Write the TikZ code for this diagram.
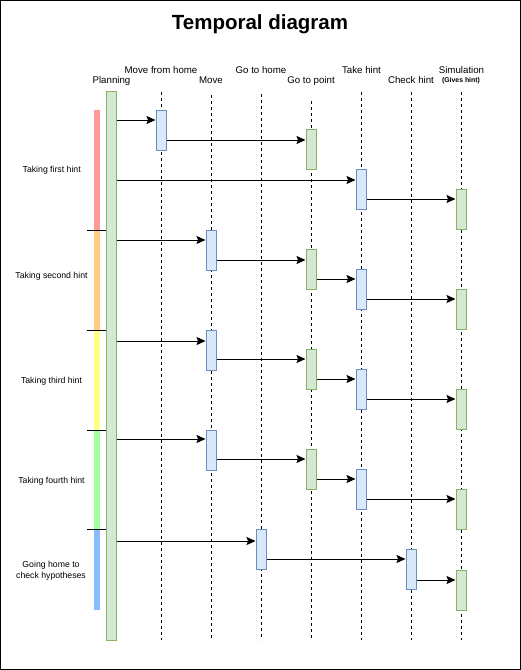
\documentclass[tikz,border=0pt]{standalone}
\usepackage{fontspec}
\setmainfont{Liberation Sans}
\usetikzlibrary{arrows.meta}
\definecolor{bfill}{HTML}{DAE8FC}
\definecolor{bline}{HTML}{6C8EBF}
\definecolor{gfill}{HTML}{D5E8D4}
\definecolor{gline}{HTML}{82B366}
\definecolor{cred}{HTML}{FF9999}
\definecolor{corange}{HTML}{FFCC80}
\definecolor{cyellow}{HTML}{FFFF88}
\definecolor{cgreen}{HTML}{A0FFA0}
\definecolor{cblue}{HTML}{88BBFF}
\newcommand\msg[3]{\draw[arr] (#1.east |- 0,#3) -- (#2.west |- 0,#3);}
\begin{document}
\begin{tikzpicture}[x=1pt,y=-1pt,
  bbox/.style={draw=bline,fill=bfill,line width=1pt,minimum width=10pt,minimum height=40pt,inner sep=0pt},
  gbox/.style={draw=gline,fill=gfill,line width=1pt,minimum width=10pt,minimum height=40pt,inner sep=0pt},
  life/.style={line width=0.9pt,dash pattern=on 3pt off 3pt},
  arr/.style={line width=0.9pt,-{Stealth[length=9pt,width=8pt,inset=1.5pt]}},
  head/.style={font=\fontsize{9.7}{11}\selectfont,inner sep=0pt},
  side/.style={font=\fontsize{8.7}{11}\selectfont,inner sep=0pt,align=center},
  sep/.style={line width=0.9pt}]
\useasboundingbox (0,0) rectangle (521,670);
\draw[line width=1pt] (0.5,0.5) rectangle (520.5,669.5);
\node[font=\bfseries\fontsize{20.5}{24}\selectfont,inner sep=0pt] (title) at (260,24) {Temporal diagram};
% headers
\node[head] (hPlan) at (111.5,80.5) {Planning};
\node[head] (hMfh) at (161,70) {Move from home};
\node[head] (hMove) at (211,80.5) {Move};
\node[head] (hGth) at (261,70) {Go to home};
\node[head] (hGtp) at (311,80.5) {Go to point};
\node[head] (hTh) at (361.5,70) {Take hint};
\node[head] (hCh) at (411,80.5) {Check hint};
\node[head] (hSim) at (461.5,70) {Simulation};
\node[font=\bfseries\fontsize{6.9}{8}\selectfont,inner sep=0pt] (hGives) at (461,81) {(Gives hint)};
% lifelines
\draw[life] (161,92) -- (161,640);
\draw[life] (211,95) -- (211,640);
\draw[life] (261,94) -- (261,640);
\draw[life] (311,101) -- (311,640);
\draw[life] (361,92) -- (361,640);
\draw[life] (411,92) -- (411,640);
\draw[life] (461,92) -- (461,640);
% phase bars
\fill[cred] (93.5,110) rectangle (99.5,230);
\fill[corange] (93.5,230) rectangle (99.5,330);
\fill[cyellow] (93.5,330) rectangle (99.5,430);
\fill[cgreen] (93.5,430) rectangle (99.5,530);
\fill[cblue] (93.5,530) rectangle (99.5,610);
\draw[sep] (87,230) -- (106,230);
\draw[sep] (87,330) -- (106,330);
\draw[sep] (87,430) -- (106,430);
\draw[sep] (87,529) -- (106,529);
\node[side] (p1) at (51.7,170) {Taking first hint};
\node[side] (p2) at (51.5,276.7) {Taking second hint};
\node[side] (p3) at (51.5,381) {Taking third hint};
\node[side] (p4) at (51.5,481.5) {Taking fourth hint};
\node[side] (p5) at (51,571) {Going home to\\check hypotheses};
% planning bar
\node[draw=gline,fill=gfill,line width=1pt,minimum width=10pt,minimum height=549pt,inner sep=0pt] (plan) at (111,365.5) {};
% boxes
\node[bbox] (mfh) at (161,130) {};
\node[gbox] (gtp1) at (311,149) {};
\node[bbox] (th1) at (361,189) {};
\node[gbox] (sim1) at (461,209) {};
\node[bbox] (mv2) at (211,250) {};
\node[gbox] (gtp2) at (311,269) {};
\node[bbox] (th2) at (361,289) {};
\node[gbox] (sim2) at (461,309) {};
\node[bbox] (mv3) at (211,350) {};
\node[gbox] (gtp3) at (311,369) {};
\node[bbox] (th3) at (361,389) {};
\node[gbox] (sim3) at (461,409) {};
\node[bbox] (mv4) at (211,450) {};
\node[gbox] (gtp4) at (311,469) {};
\node[bbox] (th4) at (361,489) {};
\node[gbox] (sim4) at (461,509) {};
\node[bbox] (gth) at (261,549) {};
\node[bbox] (ch) at (411,569) {};
\node[gbox] (sim5) at (461,590) {};
% messages
\msg{plan}{mfh}{120}
\msg{mfh}{gtp1}{140}
\msg{plan}{th1}{180}
\msg{th1}{sim1}{199}
\msg{plan}{mv2}{240}
\msg{mv2}{gtp2}{260}
\msg{gtp2}{th2}{279}
\msg{th2}{sim2}{299}
\msg{plan}{mv3}{341}
\msg{mv3}{gtp3}{359}
\msg{gtp3}{th3}{379}
\msg{th3}{sim3}{399}
\msg{plan}{mv4}{439}
\msg{mv4}{gtp4}{459}
\msg{gtp4}{th4}{479}
\msg{th4}{sim4}{499}
\msg{plan}{gth}{541}
\msg{gth}{ch}{559}
\msg{ch}{sim5}{580}
\end{tikzpicture}
\end{document}
